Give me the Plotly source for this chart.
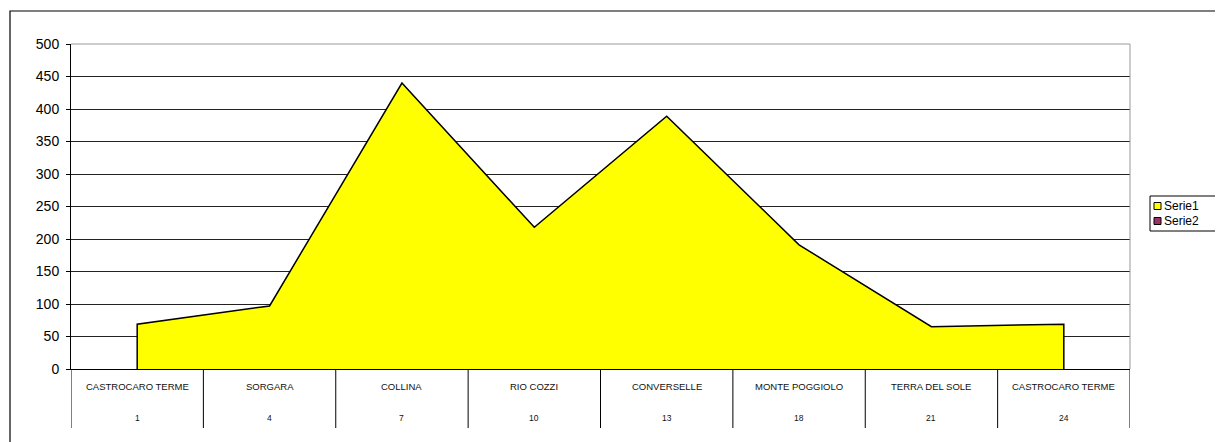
import plotly.graph_objects as go

# data
localita = ['CASTROCARO TERME', 'SORGARA', 'COLLINA', 'RIO COZZI',
            'CONVERSELLE', 'MONTE POGGIOLO', 'TERRA DEL SOLE', 'CASTROCARO TERME']
numeri = ['1', '4', '7', '10', '13', '18', '21', '24']
serie1 = [69, 97, 440, 218, 389, 191, 65, 69]
serie_nomi = ['Serie1', 'Serie2']
serie_colori = ['#FFFF00', '#993366']

FONT = 'Arial, Liberation Sans, sans-serif'
W, H = 1223, 442
OFF = 8  # page body margin of the html
# plot area in page pixels: x 71..1130, y 44..369
L, T = 71 - OFF, 44 - OFF
R, B = W - (1130 - OFF), H - (369 - OFF)


def px_x(px):
    return (px - OFF - L) / (W - L - R)


def px_y(py):
    return (H - B - (py - OFF)) / (H - T - B)


pos = list(range(1, len(localita) + 1))

fig = go.Figure()

# area with its full outline (Excel draws the border around the whole polygon)
fig.add_trace(go.Scatter(
    x=[pos[0]] + pos + [pos[-1]],
    y=[0] + serie1 + [0],
    mode='lines',
    fill='toself',
    fillcolor='#FFFF00',
    line={'color': 'black', 'width': 1.5},
    showlegend=False,
    hoverinfo='skip'
))

shapes = []
# category separators running down through the label rows
for i in range(len(localita) + 1):
    shapes.append(dict(type='line', xref='x', yref='paper',
                       x0=i + 0.5, x1=i + 0.5, y0=0, y1=px_y(428),
                       line={'color': 'black', 'width': 1}))
# gray plot border on top and right
shapes.append(dict(type='line', xref='paper', yref='paper', x0=0, x1=1, y0=1, y1=1,
                   line={'color': '#999999', 'width': 1}, layer='above'))
shapes.append(dict(type='line', xref='paper', yref='paper', x0=1, x1=1, y0=0, y1=1,
                   line={'color': '#999999', 'width': 1}, layer='above'))
# outer chart border
shapes.append(dict(type='rect', xref='paper', yref='paper',
                   x0=px_x(10), x1=px_x(1260), y0=px_y(470), y1=px_y(11),
                   line={'color': 'black', 'width': 1.2}))

annotations = []
for p, nome, num in zip(pos, localita, numeri):
    annotations.append(dict(x=p, y=px_y(386), xref='x', yref='paper', text=nome,
                            showarrow=False, yanchor='middle',
                            font={'size': 9.5, 'family': FONT, 'color': '#111111'}))
    annotations.append(dict(x=p, y=px_y(418), xref='x', yref='paper', text=num,
                            showarrow=False, yanchor='middle',
                            font={'size': 8.5, 'family': FONT, 'color': '#111111'}))

# legend box drawn by hand (Excel style, small squares)
shapes.append(dict(type='rect', xref='paper', yref='paper',
                   x0=px_x(1150), x1=px_x(1219), y0=px_y(231), y1=px_y(196),
                   line={'color': 'black', 'width': 1}, fillcolor='white'))
for k, (nome, colore) in enumerate(zip(serie_nomi, serie_colori)):
    cy = 206 + k * 15
    shapes.append(dict(type='rect', xref='paper', yref='paper',
                       x0=px_x(1154), x1=px_x(1161), y0=px_y(cy + 3.5), y1=px_y(cy - 3.5),
                       line={'color': 'black', 'width': 1}, fillcolor=colore))
    annotations.append(dict(x=px_x(1162), y=px_y(cy), xref='paper', yref='paper',
                            text=nome, showarrow=False, xanchor='left', yanchor='middle',
                            font={'size': 12, 'family': FONT, 'color': 'black'}))

fig.update_layout(
    width=W,
    height=H,
    margin={'l': L, 'r': R, 't': T, 'b': B, 'autoexpand': False},
    paper_bgcolor='white',
    plot_bgcolor='white',
    font={'family': FONT, 'color': 'black'},
    showlegend=False,
    xaxis={
        'range': [0.5, len(localita) + 0.5],
        'showticklabels': False,
        'showgrid': False,
        'zeroline': False,
        'showline': True,
        'linecolor': 'black',
        'linewidth': 1
    },
    yaxis={
        'range': [0, 500],
        'dtick': 50,
        'showgrid': True,
        'gridcolor': '#222222',
        'gridwidth': 1,
        'zeroline': False,
        'showline': True,
        'linecolor': 'black',
        'linewidth': 1,
        'ticks': 'outside',
        'ticklen': 4,
        'tickcolor': 'black',
        'ticklabelstandoff': 4,
        'tickfont': {'size': 14, 'family': FONT}
    },
    shapes=shapes,
    annotations=annotations
)

fig.write_html("out.html")
